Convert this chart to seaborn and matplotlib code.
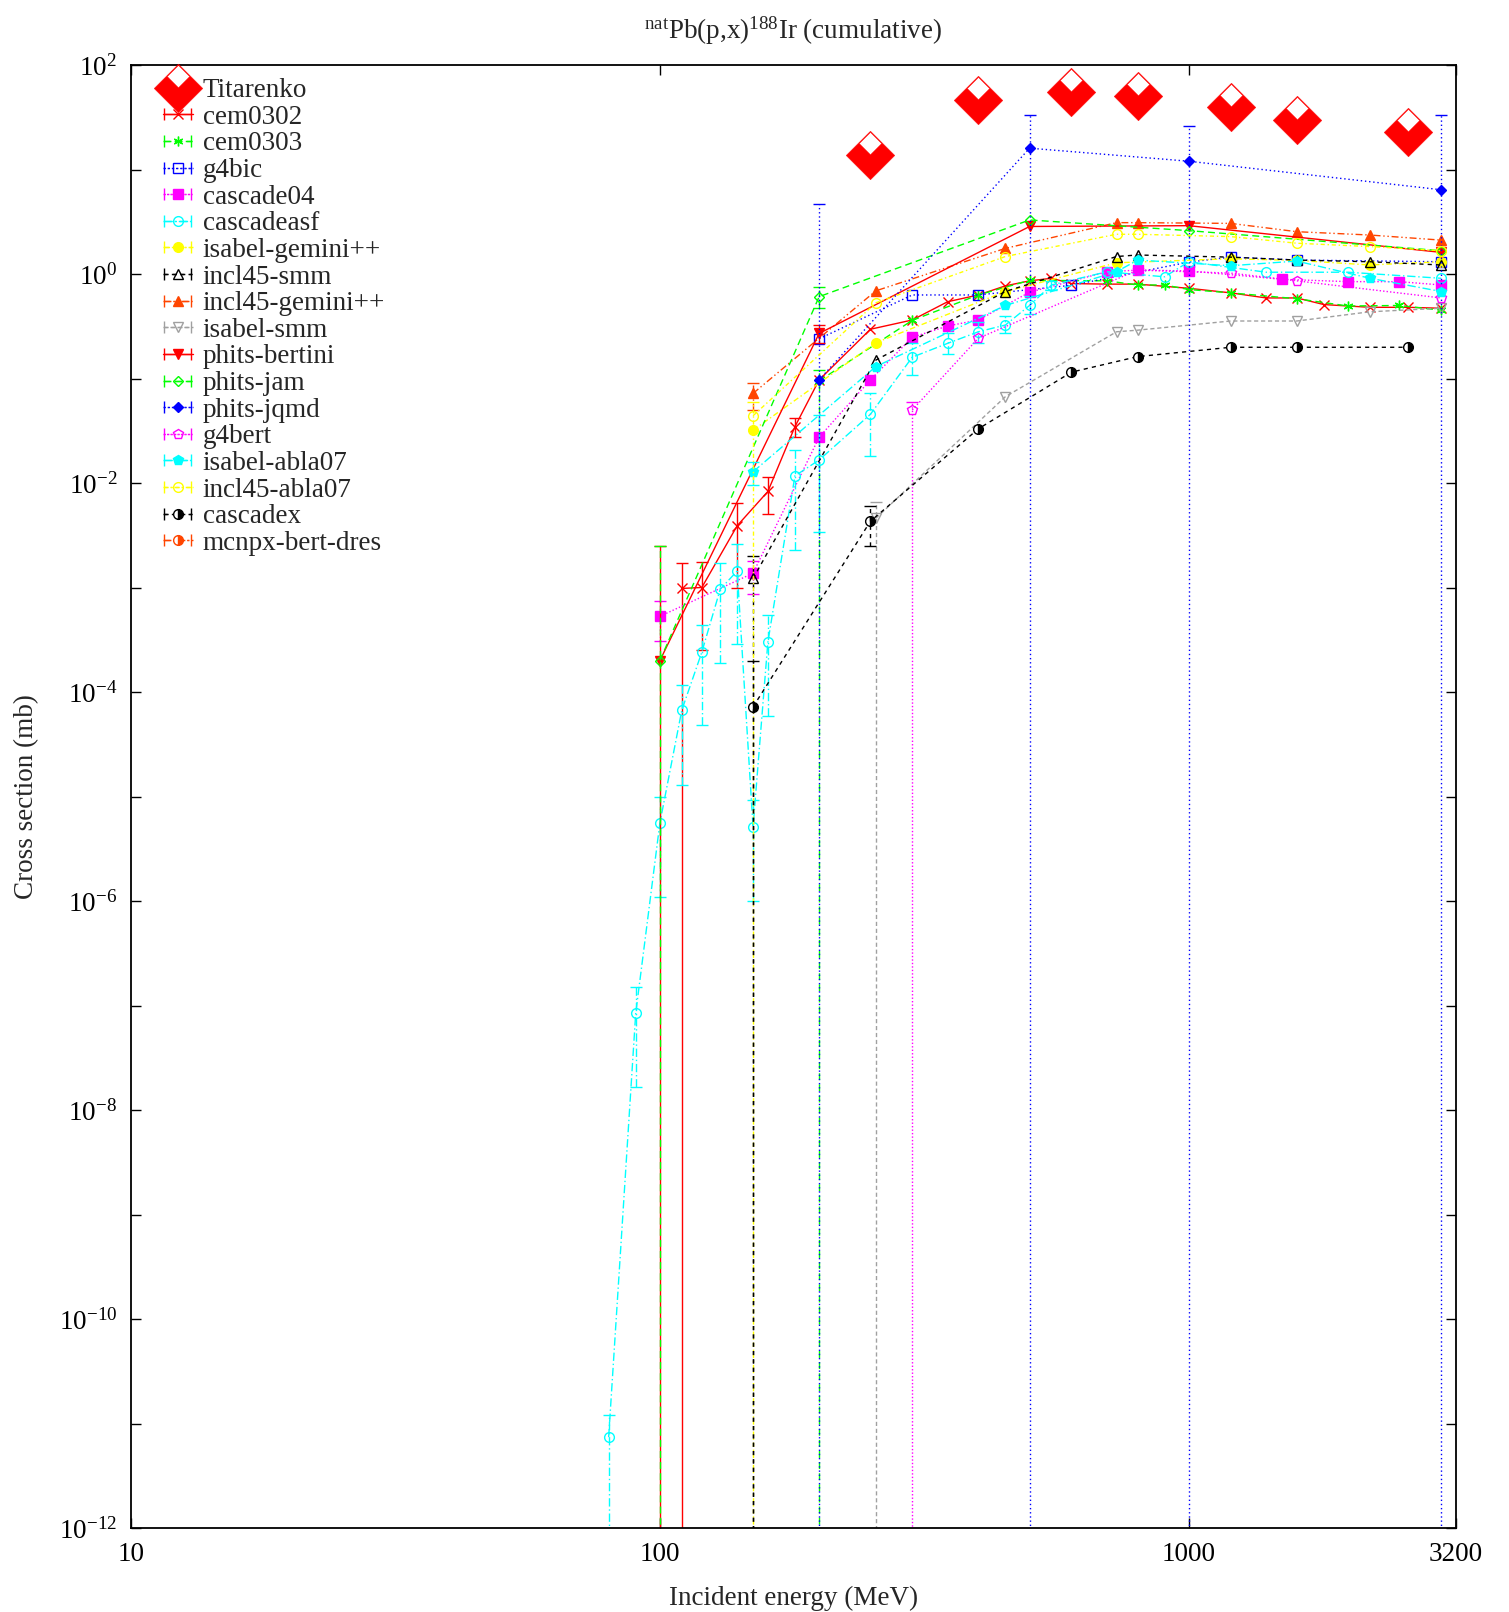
import numpy as np
import matplotlib
matplotlib.use("Agg")
import matplotlib.pyplot as plt
from matplotlib.path import Path
from matplotlib.lines import Line2D
from matplotlib.ticker import FixedLocator, FuncFormatter, NullLocator
import seaborn as sns

BOTTOM = 1e-13  # error bars that run off the bottom of the plot

# ---- data ----
titarenko_e = [250, 400, 600, 800, 1200, 1600, 2600]
titarenko_y = [13.7, 46, 55, 51, 40, 30, 23]

cem0302_e = [110, 120, 140, 160, 180, 200, 250, 300, 350, 400, 450, 500, 550, 600, 700, 800,
             1000, 1200, 1400, 1600, 1800, 2200, 2600, 3000]
cem0302_y = [9.8e-4, 1.0e-3, 3.9e-3, 8.3e-3, 0.0346, 0.097, 0.296, 0.363, 0.543, 0.63, 0.77, 0.86,
             0.91, 0.81, 0.80, 0.80, 0.73, 0.66, 0.59, 0.59, 0.51, 0.48, 0.48, 0.47]
cem0302_err = {110: (BOTTOM, 1.7e-3), 120: (2.5e-4, 1.74e-3), 140: (1.0e-3, 6.5e-3),
               160: (5.0e-3, 0.0115), 180: (0.0273, 0.0416)}

cem0303_e = [200, 300, 400, 500, 700, 800, 900, 1000, 1200, 1600, 2000, 2500, 3000]
cem0303_y = [0.095, 0.36, 0.63, 0.87, 0.86, 0.785, 0.785, 0.71, 0.66, 0.58, 0.494, 0.50, 0.45]
cem0303_err = {200: (BOTTOM, 0.12)}

g4bic_e = [200, 300, 400, 600, 1000, 1200, 1600, 3000]
g4bic_y = [0.24, 0.63, 0.63, 0.78, 1.3, 1.45, 1.36, 1.31]
g4bic_err = {}

cascade04_e = [100, 150, 200, 250, 300, 350, 400, 500, 700, 800, 1000, 1500, 2000, 2500, 3000]
cascade04_y = [5.3e-4, 1.37e-3, 0.0274, 0.097, 0.248, 0.318, 0.363, 0.67, 1.05, 1.09, 1.07,
               0.89, 0.845, 0.845, 0.785]
cascade04_err = {100: (3.1e-4, 7.5e-4), 150: (8.6e-4, 1.8e-3)}

cascadeasf_e = [80, 90, 100, 110, 120, 130, 140, 150, 160, 180, 200, 250, 300, 350, 400, 450,
                500, 550, 700, 900, 1000, 1400, 2000, 3000]
cascadeasf_y = [7.4e-12, 8.4e-8, 5.6e-6, 6.7e-5, 2.4e-4, 9.6e-4, 1.44e-3, 5.1e-6, 3.0e-4, 0.0117,
                0.0166, 0.0454, 0.16, 0.217, 0.28, 0.325, 0.50, 0.785, 1.05, 0.94, 1.31, 1.04,
                1.04, 0.91]
cascadeasf_err = {80: (BOTTOM, 1.2e-11), 90: (1.65e-8, 1.5e-7), 100: (1.1e-6, 1.0e-5),
                  110: (1.3e-5, 1.17e-4), 120: (4.8e-5, 4.4e-4), 130: (1.9e-4, 1.73e-3),
                  140: (2.9e-4, 2.6e-3), 150: (1.0e-6, 9.3e-6), 160: (5.9e-5, 5.4e-4),
                  180: (2.3e-3, 0.0207), 200: (3.4e-3, 0.045), 250: (0.018, 0.073),
                  300: (0.108, 0.217), 350: (0.17, 0.27), 400: (0.22, 0.35), 450: (0.27, 0.40),
                  500: (0.41, 0.61), 550: (0.70, 0.86)}

isabel_gemini_e = [150, 256, 450, 730, 1200, 1600, 2200, 3000]
isabel_gemini_y = [0.032, 0.22, 0.68, 1.28, 1.4, 1.35, 1.22, 1.31]
isabel_gemini_err = {}

incl45_smm_e = [150, 256, 450, 730, 800, 1200, 1600, 2200, 3000]
incl45_smm_y = [1.22e-3, 0.15, 0.68, 1.47, 1.52, 1.45, 1.36, 1.31, 1.22]
incl45_smm_err = {150: (BOTTOM, 2.0e-3)}

incl45_gemini_e = [150, 256, 450, 730, 800, 1200, 1600, 2200, 3000]
incl45_gemini_y = [0.072, 0.69, 1.76, 3.1, 3.1, 3.05, 2.54, 2.36, 2.11]
incl45_gemini_err = {150: (0.05, 0.09)}

isabel_smm_e = [256, 450, 730, 800, 1200, 1600, 2200, 3000]
isabel_smm_y = [4.6e-3, 0.067, 0.28, 0.29, 0.355, 0.355, 0.435, 0.47]
isabel_smm_err = {256: (BOTTOM, 6.6e-3)}

phits_bertini_e = [100, 200, 500, 1000, 3000]
phits_bertini_y = [2e-4, 0.27, 2.85, 2.9, 1.61]
phits_bertini_err = {100: (BOTTOM, 2.5e-3), 200: (0.217, 0.325)}

phits_jam_e = [100, 200, 500, 1000, 3000]
phits_jam_y = [2e-4, 0.607, 3.29, 2.6, 1.67]
phits_jam_err = {100: (BOTTOM, 2.5e-3), 200: (0.47, 0.757)}

phits_jqmd_e = [200, 500, 1000, 3000]
phits_jqmd_y = [0.097, 16, 12, 6.4]
phits_jqmd_err = {200: (BOTTOM, 4.7), 500: (BOTTOM, 33), 1000: (BOTTOM, 26), 3000: (BOTTOM, 33)}

g4bert_e = [300, 400, 800, 1200, 1600, 3000]
g4bert_y = [0.05, 0.243, 1.09, 1.02, 0.86, 0.59]
g4bert_err = {300: (BOTTOM, 0.06)}

isabel_abla_e = [150, 256, 450, 730, 800, 1200, 1600, 2200, 3000]
isabel_abla_y = [0.0128, 0.13, 0.5, 1.05, 1.36, 1.20, 1.33, 0.91, 0.68]
isabel_abla_err = {150: (9.6e-3, 0.016)}

incl45_abla_e = [150, 256, 450, 730, 800, 1200, 1600, 2200, 3000]
incl45_abla_y = [0.044, 0.53, 1.47, 2.4, 2.4, 2.28, 1.97, 1.83, 1.67]
incl45_abla_err = {150: (BOTTOM, 0.06)}

cascadex_e = [150, 250, 400, 600, 800, 1200, 1600, 2600]
cascadex_y = [7.2e-5, 4.3e-3, 0.033, 0.115, 0.162, 0.199, 0.199, 0.199]
cascadex_err = {150: (BOTTOM, 2.0e-4), 250: (2.5e-3, 6.0e-3)}

mcnpx_e = []
mcnpx_y = []
mcnpx_err = {}

y_ticks = 10.0 ** np.arange(-12, 3)
x_ticks = [10, 100, 1000, 3200]
x_tick_labels = ["10", "100", "1000", "3200"]

# ---- styles ----
series = [
    ("cem0302", cem0302_e, cem0302_y, cem0302_err, "#ff0000", "-", "x", True),
    ("cem0303", cem0303_e, cem0303_y, cem0303_err, "#00ff00", (0, (5, 3)), (6, 2, 0), True),
    ("g4bic", g4bic_e, g4bic_y, g4bic_err, "#0000ff", (0, (1, 2)), "s", False),
    ("cascade04", cascade04_e, cascade04_y, cascade04_err, "#ff00ff", (0, (1, 1.5)), "s", True),
    ("cascadeasf", cascadeasf_e, cascadeasf_y, cascadeasf_err, "#00ffff", (0, (6, 2, 1, 2)), "o", False),
    ("isabel-gemini++", isabel_gemini_e, isabel_gemini_y, isabel_gemini_err, "#ffff00", (0, (4, 2, 1, 2)), "o", True),
    ("incl45-smm", incl45_smm_e, incl45_smm_y, incl45_smm_err, "#000000", (0, (3, 3)), "^", False),
    ("incl45-gemini++", incl45_gemini_e, incl45_gemini_y, incl45_gemini_err, "#ff4500", (0, (5, 2, 1, 2, 1, 2)), "^", True),
    ("isabel-smm", isabel_smm_e, isabel_smm_y, isabel_smm_err, "#a0a0a0", (0, (3, 2)), "v", False),
    ("phits-bertini", phits_bertini_e, phits_bertini_y, phits_bertini_err, "#ff0000", "-", "v", True),
    ("phits-jam", phits_jam_e, phits_jam_y, phits_jam_err, "#00ff00", (0, (5, 3)), "D", False),
    ("phits-jqmd", phits_jqmd_e, phits_jqmd_y, phits_jqmd_err, "#0000ff", (0, (1, 2)), "D", True),
    ("g4bert", g4bert_e, g4bert_y, g4bert_err, "#ff00ff", (0, (1, 1.5)), "p", False),
    ("isabel-abla07", isabel_abla_e, isabel_abla_y, isabel_abla_err, "#00ffff", (0, (6, 2, 1, 2)), "p", True),
    ("incl45-abla07", incl45_abla_e, incl45_abla_y, incl45_abla_err, "#ffff00", (0, (3, 2, 1, 2)), "o", False),
    ("cascadex", cascadex_e, cascadex_y, cascadex_err, "#000000", (0, (3, 3)), "o", "half"),
    ("mcnpx-bert-dres", mcnpx_e, mcnpx_y, mcnpx_err, "#ff4500", (0, (5, 2, 1, 2)), "o", "half"),
]

# big Titarenko diamond with a notch at the top
outer = [(0, 1), (-1, 0), (0, -1), (1, 0), (0, 1)]
inner = [(0, 0.95), (0.46, 0.49), (0, 0.03), (-0.46, 0.49), (0, 0.95)]
diamond = Path(outer + inner,
               [Path.MOVETO] + [Path.LINETO] * 3 + [Path.CLOSEPOLY]
               + [Path.MOVETO] + [Path.LINETO] * 3 + [Path.CLOSEPOLY])

FS = 19.5

sns.set_theme(style="ticks")
plt.rcParams["font.family"] = ["Liberation Serif", "DejaVu Serif"]
plt.rcParams["mathtext.fontset"] = "custom"
plt.rcParams["mathtext.rm"] = "Liberation Serif"
plt.rcParams["mathtext.it"] = "Liberation Serif:italic"
plt.rcParams["mathtext.bf"] = "Liberation Serif:bold"

fig = plt.figure(figsize=(15.09, 16.12), dpi=100)
ax = fig.add_axes([131 / 1509, 1 - 1528 / 1612, 1325 / 1509, 1463 / 1612])
ax.set_xscale("log")
ax.set_yscale("log")


def marker_kw(color, filled, mk):
    kw = dict(markeredgecolor=color, markeredgewidth=1.0, markersize=5 if mk == "D" else 7)
    if filled == "half":
        kw.update(fillstyle="right", markerfacecolor=color, markerfacecoloralt="white")
    elif filled:
        kw.update(markerfacecolor=color)
    else:
        kw.update(markerfacecolor="none")
    return kw


handles = []
labels = []

sns.scatterplot(x=titarenko_e, y=titarenko_y, ax=ax, marker=diamond, s=35 ** 2,
                color="#ff0000", edgecolor="#ff0000", linewidth=0.3, zorder=5, legend=False)
handles.append(Line2D([], [], ls="none", marker=diamond, ms=35, color="#ff0000",
                      mec="#ff0000", mfc="#ff0000", mew=0.3))
labels.append("Titarenko")

for name, e, y, err, color, ls, mk, filled in series:
    mkw = marker_kw(color, filled, mk)
    if e:
        sns.lineplot(x=e, y=y, ax=ax, color=color, linestyle=ls, lw=1.0, marker=mk,
                     errorbar=None, legend=False, sort=False, **mkw)
        for ee, (lo, hi) in err.items():
            v = y[e.index(ee)]
            eb = ax.errorbar([ee], [v], yerr=[[v - lo], [hi - v]], fmt="none", ecolor=color,
                             elinewidth=1.0, capsize=4, capthick=1.0)
            eb[2][0].set_linestyle(ls)
    proxy = ax.errorbar([np.nan], [np.nan], xerr=[1.0], color=color, ls=ls, lw=1.0,
                        marker=mk, capsize=4, capthick=1.0, **mkw)
    proxy[2][0].set_linestyle(ls)
    handles.append(proxy)
    labels.append(name)

ax.set_xlim(10, 3200)
ax.set_ylim(1e-12, 1e2)

ax.xaxis.set_major_locator(FixedLocator(x_ticks))
ax.xaxis.set_major_formatter(FuncFormatter(lambda v, p: x_tick_labels[x_ticks.index(int(round(v)))]
                                           if int(round(v)) in x_ticks else ""))
ax.xaxis.set_minor_locator(NullLocator())
ax.yaxis.set_major_locator(FixedLocator(y_ticks))
ax.yaxis.set_major_formatter(FuncFormatter(
    lambda v, p: r"10$^{%d}$" % round(np.log10(v)) if round(np.log10(v)) % 2 == 0 else ""))
ax.yaxis.set_minor_locator(NullLocator())

ax.tick_params(which="both", direction="in", length=7, width=1, top=True, right=True,
               labelsize=FS, pad=10, colors="black")
for sp in ax.spines.values():
    sp.set_color("black")
    sp.set_linewidth(1.3)

ax.set_xlabel("Incident energy (MeV)", fontsize=FS, labelpad=14)
ax.set_ylabel("Cross section (mb)", fontsize=FS, labelpad=14)
ax.set_title(r"$^{\rm nat}$Pb(p,x)$^{188}$Ir (cumulative)", fontsize=FS, pad=19)

ax.legend(handles, labels, loc="upper left", bbox_to_anchor=(0.024, 0.991), frameon=False,
          fontsize=FS, handlelength=1.1, handletextpad=0.38, labelspacing=0.06,
          borderpad=0, borderaxespad=0)

fig.savefig("out.png", dpi=100, facecolor="white")
